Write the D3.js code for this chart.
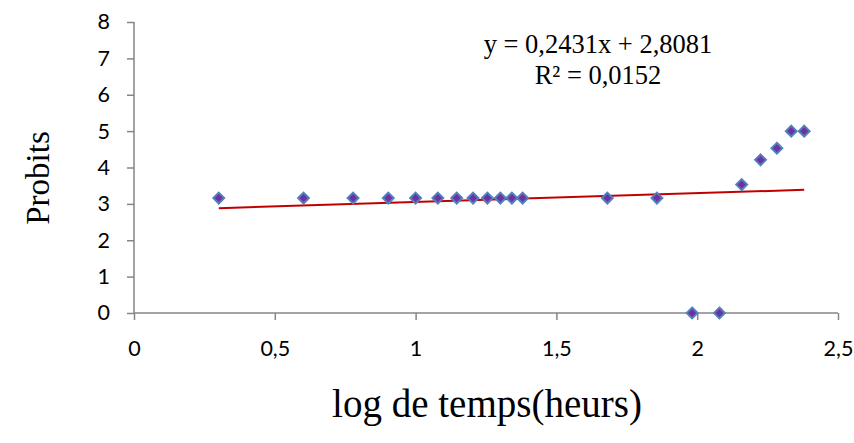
<!DOCTYPE html>
<html>
<head>
<meta charset="utf-8">
<script src="https://cdn.jsdelivr.net/npm/d3@7"></script>
<style>
  body { margin: 0; background: #fff; }
  svg { display: block; }
</style>
</head>
<body>
<div id="chart"></div>
<script>
// heures -> log10, probits
const logTemps = [0.301, 0.602, 0.778, 0.903, 1.0, 1.079, 1.146, 1.204, 1.255, 1.301, 1.342, 1.380,
  1.681, 1.857, 1.982, 2.079, 2.158, 2.225, 2.283, 2.334, 2.380];
const probits = [3.16, 3.16, 3.16, 3.16, 3.16, 3.16, 3.16, 3.16, 3.16, 3.16, 3.16, 3.16,
  3.16, 3.16, 0, 0, 3.53, 4.21, 4.53, 5.0, 5.0];
const xTicks = [0, 0.5, 1, 1.5, 2, 2.5];
const yTicks = [0, 1, 2, 3, 4, 5, 6, 7, 8];
const trend = { slope: 0.2431, intercept: 2.8081, r2: 0.0152 };

const width = 854, height = 443;
const margin = { left: 134, right: 16, top: 22, bottom: 130 };

const svg = d3.select("#chart").append("svg")
  .attr("width", width)
  .attr("height", height);

const x = d3.scaleLinear().domain([0, 2.5]).range([margin.left, width - margin.right]);
const y = d3.scaleLinear().domain([0, 8]).range([height - margin.bottom, margin.top]);

const fmt = (d) => String(d).replace(".", ",");
const axisColor = "#868686";
const serif = "'Liberation Serif', 'Times New Roman', serif";

// axe Y
const yAxis = svg.append("g")
  .attr("transform", `translate(${x(0)},0)`)
  .call(d3.axisLeft(y).tickValues(yTicks).tickSize(7).tickPadding(17).tickFormat(fmt));

// axe X
const xAxis = svg.append("g")
  .attr("transform", `translate(0,${y(0)})`)
  .call(d3.axisBottom(x).tickValues(xTicks).tickSize(7).tickPadding(21).tickFormat(fmt));

[yAxis, xAxis].forEach((a) => {
  a.select(".domain").remove();
  a.selectAll(".tick line").attr("stroke", axisColor).attr("stroke-width", 1.5);
  a.selectAll(".tick text")
    .attr("fill", "#000")
    .style("font-family", "Lato, 'Open Sans', sans-serif")
    .style("font-size", "21.5px");
});
svg.append("line")
  .attr("x1", x(0)).attr("x2", x(0))
  .attr("y1", y(8)).attr("y2", y(0))
  .attr("stroke", axisColor).attr("stroke-width", 1.5);
svg.append("line")
  .attr("x1", x(0)).attr("x2", x(2.5))
  .attr("y1", y(0)).attr("y2", y(0))
  .attr("stroke", axisColor).attr("stroke-width", 1.5);

// courbe de tendance
const xMin = d3.min(logTemps), xMax = d3.max(logTemps);
svg.append("line")
  .attr("x1", x(xMin)).attr("y1", y(trend.slope * xMin + trend.intercept))
  .attr("x2", x(xMax)).attr("y2", y(trend.slope * xMax + trend.intercept))
  .attr("stroke", "#c00000")
  .attr("stroke-width", 2);

// points
const diamond = d3.symbol().type(d3.symbolDiamond2).size(75);
svg.append("g").selectAll("path")
  .data(logTemps.map((d, i) => [d, probits[i]]))
  .join("path")
  .attr("d", diamond)
  .attr("transform", (d) => `translate(${x(d[0])},${y(d[1])})`)
  .attr("fill", "#7030a0")
  .attr("stroke", "#4f81bd")
  .attr("stroke-width", 2);

// équation
const eq = svg.append("g")
  .style("font-family", serif)
  .style("font-size", "26.5px")
  .attr("text-anchor", "middle");
eq.append("text").attr("x", 598).attr("y", 53)
  .text(`y = ${fmt(trend.slope)}x + ${fmt(trend.intercept)}`);
eq.append("text").attr("x", 598).attr("y", 84)
  .text(`R² = ${fmt(trend.r2)}`);

// titres des axes
svg.append("text")
  .attr("transform", `translate(49,178) rotate(-90)`)
  .attr("text-anchor", "middle")
  .style("font-family", serif)
  .style("font-size", "33px")
  .text("Probits");

svg.append("text")
  .attr("x", 487).attr("y", 417)
  .attr("text-anchor", "middle")
  .style("font-family", serif)
  .style("font-size", "39px")
  .text("log de temps(heurs)");
</script>
</body>
</html>
